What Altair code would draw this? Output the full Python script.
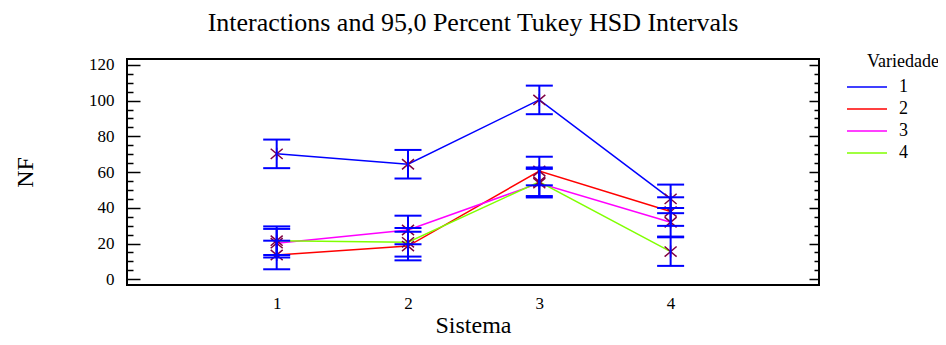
import altair as alt
import pandas as pd

# ---- data ----
sistema = [1, 2, 3, 4]
variedades = ["1", "2", "3", "4"]
nf_v1 = [70.2, 64.4, 100.4, 45.0]
nf_v2 = [13.6, 18.6, 60.6, 37.9]
nf_v3 = [20.2, 27.6, 53.8, 31.9]
nf_v4 = [21.6, 20.7, 54.6, 15.5]
hsd_half = 8.0  # half-width of the 95% Tukey HSD interval
y_ticks = list(range(0, 125, 5))
y_labels = [0, 20, 40, 60, 80, 100, 120]
line_colors = ["#0000ff", "#ff0000", "#ff00ff", "#80ff00"]

rows = []
for v, vals in zip(variedades, [nf_v1, nf_v2, nf_v3, nf_v4]):
    for s, m in zip(sistema, vals):
        rows.append({"Sistema": s, "Variedade": v, "NF": m,
                     "lo": m - hsd_half, "hi": m + hsd_half})
df = pd.DataFrame(rows)

FONT = "Liberation Serif"
W, H = 692, 226
xscale = alt.Scale(domain=[-0.14, 5.13], nice=False, zero=False)
yscale = alt.Scale(domain=[-3.2, 123.3], nice=False, zero=False)

x_axis = alt.Axis(values=sistema, ticks=False, domain=False, grid=False,
                  labelPadding=10, title="Sistema", titleY=47,
                  titleBaseline="alphabetic")
x_enc = alt.X("Sistema:Q", scale=xscale, axis=x_axis)

base = alt.Chart(df)

lines = base.mark_line(strokeWidth=1.5).encode(
    x=x_enc,
    y=alt.Y("NF:Q", scale=yscale,
            axis=alt.Axis(orient="left", values=y_labels, ticks=False, domain=False,
                          grid=False, labelPadding=13, title="NF",
                          titleX=-102, titleY=113, titleAngle=-90,
                          titleAlign="center", titleBaseline="middle")),
    color=alt.Color("Variedade:N",
                    scale=alt.Scale(domain=variedades, range=line_colors),
                    legend=alt.Legend(orient="none", legendX=740, legendY=-6,
                                      title="Variedade",
                                      symbolType="M-2,0H2", symbolSize=400,
                                      symbolStrokeWidth=1.5, symbolOffset=-11,
                                      labelOffset=21, rowPadding=2)),
)

points = base.mark_point(
    shape="M-1,-0.85L1,0.85M-1,0.85L1,-0.85M0,-1L0,1",
    size=144, filled=False, strokeWidth=1.5, color="#800040", opacity=1,
).encode(
    x=x_enc,
    y=alt.Y("NF:Q", scale=yscale,
            axis=alt.Axis(orient="right", offset=-W, values=y_ticks, labels=False,
                          domain=False, grid=False, title=None, tickColor="black",
                          tickWidth=1.5,
                          tickSize={"condition": {"test": "datum.value % 20 === 0",
                                                  "value": 13}, "value": 6})),
)

bars = base.mark_rule(color="#0000ff", strokeWidth=2).encode(
    x=x_enc,
    y=alt.Y("lo:Q", scale=yscale,
            axis=alt.Axis(orient="left", offset=-W, values=y_ticks, labels=False,
                          domain=False, grid=False, title=None, tickColor="black",
                          tickWidth=1.5,
                          tickSize={"condition": {"test": "datum.value % 20 === 0",
                                                  "value": 10}, "value": 5})),
    y2="hi:Q",
)

cap_lo = base.mark_tick(orient="horizontal", size=27, thickness=2,
                        color="#0000ff", opacity=1).encode(
    x=x_enc,
    y=alt.Y("lo:Q", scale=yscale, axis=None),
)
cap_hi = base.mark_tick(orient="horizontal", size=27, thickness=2,
                        color="#0000ff", opacity=1).encode(
    x=x_enc,
    y=alt.Y("hi:Q", scale=yscale, axis=None),
)

chart = alt.layer(lines, points, bars, cap_lo, cap_hi).resolve_axis(
    y="independent"
).properties(
    width=W, height=H,
    autosize=alt.AutoSizeParams(type="none"),
    padding={"left": 119, "top": 51, "right": 119, "bottom": 52},
    title=alt.TitleParams("Interactions and 95,0 Percent Tukey HSD Intervals",
                          font=FONT, fontSize=26, fontWeight="normal",
                          color="black", anchor="middle", offset=17),
).configure_view(
    stroke="black", strokeWidth=2
).configure_axis(
    labelFont=FONT, labelFontSize=17, labelColor="black",
    titleFont=FONT, titleFontSize=24, titleFontWeight="normal",
    titleColor="black",
).configure_legend(
    labelFont=FONT, labelFontSize=18, labelColor="black",
    titleFont=FONT, titleFontSize=18, titleFontWeight="normal",
    titleColor="black",
)

chart.save("out.html", embed_options={"renderer": "svg", "actions": False})
